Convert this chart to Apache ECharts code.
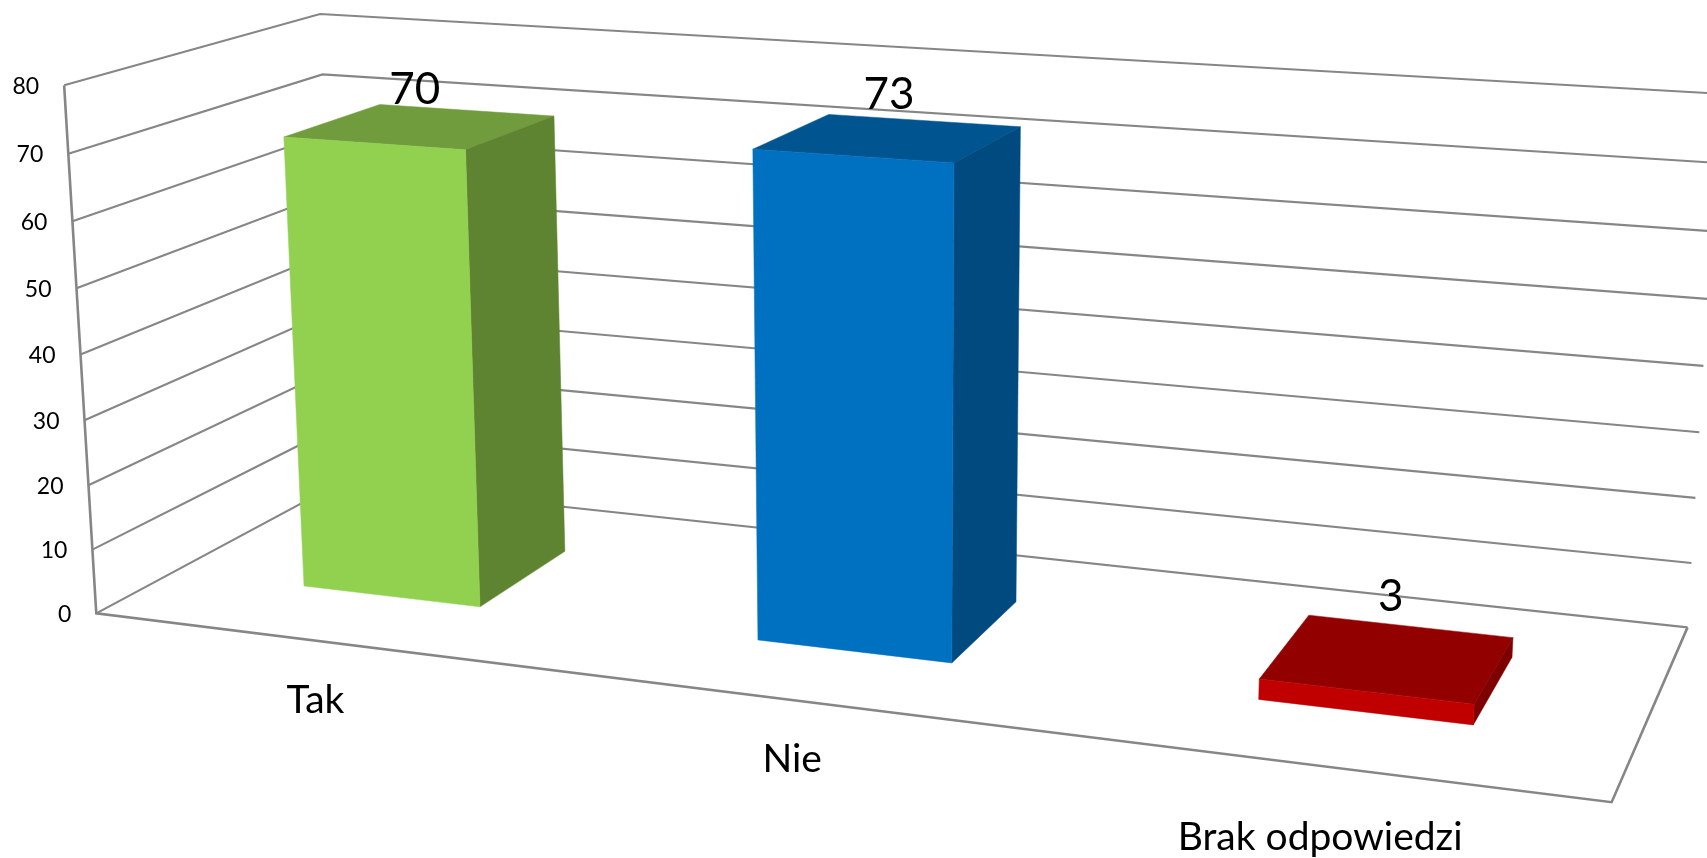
<!DOCTYPE html>
<html>
<head>
<meta charset="utf-8">
<title>Tak / Nie / Brak odpowiedzi</title>
<style>html,body{margin:0;padding:0;background:#fff}#c{width:1707px;height:858px}</style>
<script src="https://cdn.jsdelivr.net/npm/echarts@6/dist/echarts.min.js"></script>
</head>
<body>
<div id="c"></div>
<script>
// ---- data ----
const categories = ['Tak', 'Nie', 'Brak odpowiedzi'];
const values = [70, 73, 3];
const valueTicks = [0, 10, 20, 30, 40, 50, 60, 70, 80];

// ---- styles ----
const frontColors = ['#92D050', '#0070C0', '#C00000'];
const topColors = ['#709C3D', '#005490', '#920000'];
const sideColors = ['#5F8431', '#004A7F', '#7F0000'];
const gridColor = '#868686';
const FONT = 'Lato, Carlito, "Open Sans", sans-serif';

// ---- scene frame: where the box corners of the 3D plot land on the page ----
// [u (across), v (up), w (deep), pageX, pageY]
const frame = [
  [0, 0, 0, 96.4, 613.7], [0, 1, 0, 63.1, 85.7], [0, .875, 0, 68.1, 153.7], [0, .5, 0, 81.5, 354.3],
  [1, 0, 0, 1611.8, 801.7], [1, 0, 1, 1687.5, 627.7], [1, .125, 1, 1692, 563.3], [1, .25, 1, 1695.3, 498],
  [1, .375, 1, 1699, 432], [1, .5, 1, 1703, 366], [1, 1, 1, 1720, 93.5],
  [0, 1, 1, 320.7, 14], [0, .875, 1, 322.6, 74.3], [0, 0, 1, 339, 482.5]
];
const barWidthShare = 0.4;        // of a category band (gap width 150%)
const barDepth = [0.3, 0.7];      // front and back of the bars
const bandSpread = 1.0024;        // small widening of the category positions
const catLabelShift = [[-3, 59], [-5, 59], [-8, 71]];
const valueLabelShift = [[-6, -37], [0, -44], [2, -62]];

function solveCamera(pts) {
  const n = 11, A = [], b = new Array(n).fill(0);
  for (let i = 0; i < n; i++) A.push(new Array(n).fill(0));
  function add(row, r) {
    for (let i = 0; i < n; i++) {
      b[i] += row[i] * r;
      for (let j = 0; j < n; j++) A[i][j] += row[i] * row[j];
    }
  }
  pts.forEach(([u, v, w, X, Y]) => {
    add([u, v, w, 1, 0, 0, 0, 0, -X * u, -X * v, -X * w], X);
    add([0, 0, 0, 0, u, v, w, 1, -Y * u, -Y * v, -Y * w], Y);
  });
  for (let i = 0; i < n; i++) {
    let p = i;
    for (let k = i + 1; k < n; k++) if (Math.abs(A[k][i]) > Math.abs(A[p][i])) p = k;
    [A[i], A[p]] = [A[p], A[i]]; [b[i], b[p]] = [b[p], b[i]];
    for (let k = i + 1; k < n; k++) {
      const f = A[k][i] / A[i][i];
      for (let j = i; j < n; j++) A[k][j] -= f * A[i][j];
      b[k] -= f * b[i];
    }
  }
  const m = new Array(n).fill(0);
  for (let i = n - 1; i >= 0; i--) {
    let s = b[i];
    for (let j = i + 1; j < n; j++) s -= A[i][j] * m[j];
    m[i] = s / A[i][i];
  }
  return m;
}
const cam = solveCamera(frame);
function project(u, v, w) {
  const d = cam[8] * u + cam[9] * v + cam[10] * w + 1;
  return [(cam[0] * u + cam[1] * v + cam[2] * w + cam[3]) / d,
          (cam[4] * u + cam[5] * v + cam[6] * w + cam[7]) / d];
}
const toU = (px, cs) => (px - cs.x) / cs.width;
const toV = (py, cs) => (cs.y + cs.height - py) / cs.height;

function renderGrid(params, api) {
  const cs = params.coordSys;
  const tick = api.value(1);
  const v = toV(api.coord([0, tick])[1], cs);
  const a = project(0, v, 0), b = project(0, v, 1), c = project(1, v, 1);
  return {
    type: 'group',
    children: [
      { type: 'polyline', shape: { points: [a, b, c] },
        style: { stroke: gridColor, fill: null, lineWidth: 2.1 } },
      { type: 'text', style: { x: a[0] - 25, y: a[1] + 1, text: String(tick), fill: '#000',
          font: '23px ' + FONT, align: 'right', verticalAlign: 'middle' } }
    ]
  };
}

function renderFrame() {
  const o = project(0, 0, 0), t = project(0, 1, 0), r = project(1, 0, 0), k = project(1, 0, 1);
  return {
    type: 'group',
    children: [
      { type: 'polyline', shape: { points: [t, o, r, k] },
        style: { stroke: gridColor, fill: null, lineWidth: 2.6 } }
    ]
  };
}

function renderBar(params, api) {
  const cs = params.coordSys, i = params.dataIndex;
  const p = api.coord([api.value(0), api.value(1)]);
  const band = api.size([1, 0])[0] / cs.width;
  const uc = toU(p[0], cs) * bandSpread, v = toV(p[1], cs);
  const u0 = uc - band * barWidthShare / 2, u1 = uc + band * barWidthShare / 2;
  const [w0, w1] = barDepth;
  const face = (pts, fill) => ({ type: 'polygon', shape: { points: pts },
    style: { fill, stroke: fill, lineWidth: 0.5 } });
  const tfl = project(u0, v, w0), tfr = project(u1, v, w0), tbr = project(u1, v, w1), tbl = project(u0, v, w1);
  const bfl = project(u0, 0, w0), bfr = project(u1, 0, w0), bbr = project(u1, 0, w1);
  const cx = (tfl[0] + tfr[0] + tbr[0] + tbl[0]) / 4, cy = (tfl[1] + tfr[1] + tbr[1] + tbl[1]) / 4;
  const foot = project(uc, 0, 0);
  return {
    type: 'group',
    children: [
      face([tbl, tbr, tfr, tfl], topColors[i]),
      face([tfr, tbr, bbr, bfr], sideColors[i]),
      face([tfl, tfr, bfr, bfl], frontColors[i]),
      { type: 'text', z2: 5, style: { x: cx + valueLabelShift[i][0], y: cy + valueLabelShift[i][1],
          text: String(api.value(1)), fill: '#000', font: '44px ' + FONT, align: 'center', verticalAlign: 'middle' } },
      { type: 'text', z2: 5, style: { x: foot[0] + catLabelShift[i][0], y: foot[1] + catLabelShift[i][1],
          text: categories[i], fill: '#000', font: '39px ' + FONT, align: 'center', verticalAlign: 'middle' } }
    ]
  };
}

const chart = echarts.init(document.getElementById('c'), null, { renderer: 'canvas', width: 1707, height: 858 });
chart.setOption({
  animation: false,
  backgroundColor: '#ffffff',
  grid: { left: 0, right: 0, top: 0, bottom: 0 },
  xAxis: { type: 'category', data: categories, show: false },
  yAxis: { type: 'value', min: 0, max: 80, interval: 10, show: false },
  series: [
    { type: 'custom', name: 'grid', clip: false, z: 1, renderItem: renderGrid,
      data: valueTicks.map(t => [0, t]), encode: { x: 0, y: 1 } },
    { type: 'custom', name: 'frame', clip: false, z: 2, renderItem: renderFrame,
      data: [[0, 0]], encode: { x: 0, y: 1 } },
    { type: 'custom', name: 'odpowiedzi', clip: false, z: 3, renderItem: renderBar,
      data: values.map((v, i) => [i, v]), encode: { x: 0, y: 1 } }
  ]
});
</script>
</body>
</html>
